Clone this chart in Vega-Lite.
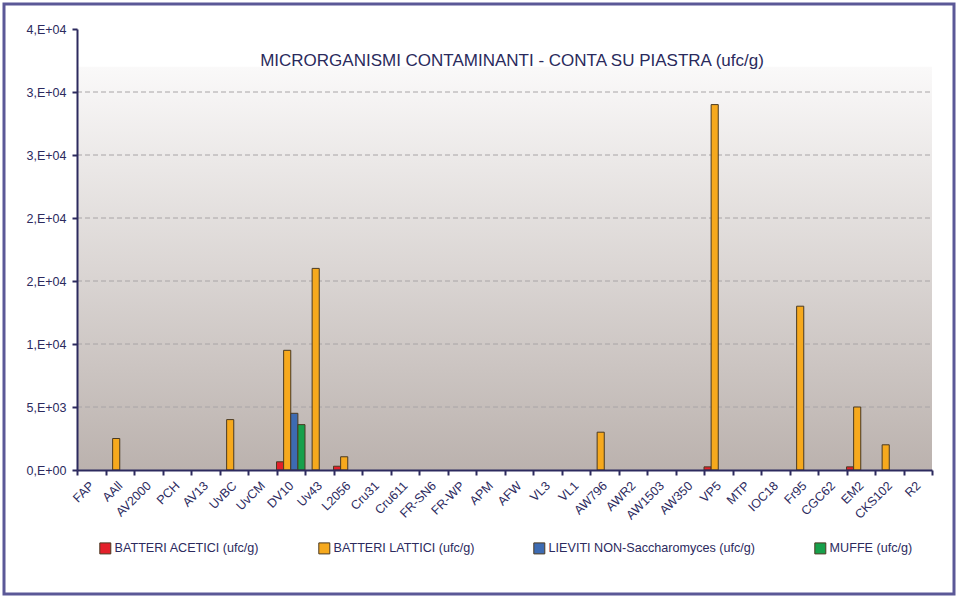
{
  "$schema": "https://vega.github.io/schema/vega-lite/v6.json",
  "width": 950,
  "height": 590,
  "autosize": {"type": "none"},
  "padding": {"left": 4, "top": 4, "right": 6, "bottom": 6},
  "background": "white",
  "config": {
    "view": {"stroke": "#5b5897", "strokeWidth": 3, "fill": "white"},
    "font": "Liberation Sans"
  },
  "title": {
    "text": "MICRORGANISMI CONTAMINANTI - CONTA SU PIASTRA (ufc/g)",
    "font": "Liberation Sans",
    "fontSize": 17,
    "fontWeight": "normal",
    "color": "#2a2a5c",
    "anchor": "middle",
    "frame": "group",
    "baseline": "alphabetic",
    "offset": -79,
    "dx": 33
  },
  "data": {
    "values": [
      {"sample": "AAll", "group": "BATTERI LATTICI (ufc/g)", "value": 2500},
      {"sample": "UvBC", "group": "BATTERI LATTICI (ufc/g)", "value": 4000},
      {"sample": "DV10", "group": "BATTERI ACETICI (ufc/g)", "value": 650},
      {"sample": "DV10", "group": "BATTERI LATTICI (ufc/g)", "value": 9500},
      {"sample": "DV10", "group": "LIEVITI NON-Saccharomyces (ufc/g)", "value": 4500},
      {"sample": "DV10", "group": "MUFFE (ufc/g)", "value": 3600},
      {"sample": "Uv43", "group": "BATTERI LATTICI (ufc/g)", "value": 16000},
      {"sample": "L2056", "group": "BATTERI ACETICI (ufc/g)", "value": 300},
      {"sample": "L2056", "group": "BATTERI LATTICI (ufc/g)", "value": 1050},
      {"sample": "AW796", "group": "BATTERI LATTICI (ufc/g)", "value": 3000},
      {"sample": "VP5", "group": "BATTERI ACETICI (ufc/g)", "value": 250},
      {"sample": "VP5", "group": "BATTERI LATTICI (ufc/g)", "value": 29000},
      {"sample": "Fr95", "group": "BATTERI LATTICI (ufc/g)", "value": 13000},
      {"sample": "EM2", "group": "BATTERI ACETICI (ufc/g)", "value": 250},
      {"sample": "EM2", "group": "BATTERI LATTICI (ufc/g)", "value": 5000},
      {"sample": "CKS102", "group": "BATTERI LATTICI (ufc/g)", "value": 2000}
    ]
  },
  "layer": [
    {
      "transform": [{"aggregate": [{"op": "count", "as": "n"}]}],
      "layer": [
        {
          "mark": {
            "type": "rect",
            "fill": {
              "gradient": "linear", "x1": 0, "y1": 0, "x2": 0, "y2": 1,
              "stops": [
                {"offset": 0, "color": "#faf9f9"},
                {"offset": 0.5, "color": "#dbd6d4"},
                {"offset": 1, "color": "#bbb2ae"}
              ]
            }
          },
          "encoding": {
            "x": {"datum": "FAP", "type": "nominal", "bandPosition": 0},
            "x2": {"datum": "R2", "bandPosition": 1},
            "y": {"datum": 32000, "type": "quantitative"},
            "y2": {"datum": 0}
          }
        },
        {"mark": {"type": "rule", "stroke": "#a8a4a6", "strokeDash": [5, 3], "strokeWidth": 1},
         "encoding": {"x": {"datum": "FAP", "type": "nominal", "bandPosition": 0}, "x2": {"datum": "R2", "bandPosition": 1}, "y": {"datum": 5000, "type": "quantitative"}}},
        {"mark": {"type": "rule", "stroke": "#a8a4a6", "strokeDash": [5, 3], "strokeWidth": 1},
         "encoding": {"x": {"datum": "FAP", "type": "nominal", "bandPosition": 0}, "x2": {"datum": "R2", "bandPosition": 1}, "y": {"datum": 10000, "type": "quantitative"}}},
        {"mark": {"type": "rule", "stroke": "#a8a4a6", "strokeDash": [5, 3], "strokeWidth": 1},
         "encoding": {"x": {"datum": "FAP", "type": "nominal", "bandPosition": 0}, "x2": {"datum": "R2", "bandPosition": 1}, "y": {"datum": 15000, "type": "quantitative"}}},
        {"mark": {"type": "rule", "stroke": "#a8a4a6", "strokeDash": [5, 3], "strokeWidth": 1},
         "encoding": {"x": {"datum": "FAP", "type": "nominal", "bandPosition": 0}, "x2": {"datum": "R2", "bandPosition": 1}, "y": {"datum": 20000, "type": "quantitative"}}},
        {"mark": {"type": "rule", "stroke": "#a8a4a6", "strokeDash": [5, 3], "strokeWidth": 1},
         "encoding": {"x": {"datum": "FAP", "type": "nominal", "bandPosition": 0}, "x2": {"datum": "R2", "bandPosition": 1}, "y": {"datum": 25000, "type": "quantitative"}}},
        {"mark": {"type": "rule", "stroke": "#a8a4a6", "strokeDash": [5, 3], "strokeWidth": 1},
         "encoding": {"x": {"datum": "FAP", "type": "nominal", "bandPosition": 0}, "x2": {"datum": "R2", "bandPosition": 1}, "y": {"datum": 30000, "type": "quantitative"}}}
      ]
    },
    {
      "mark": {"type": "bar", "stroke": "#4a3a22", "strokeWidth": 1},
      "encoding": {
        "x": {
          "field": "sample",
          "type": "nominal",
          "sort": null,
          "scale": {
            "domain": ["FAP", "AAll", "AV2000", "PCH", "AV13", "UvBC", "UvCM", "DV10", "Uv43", "L2056", "Cru31", "Cru611", "FR-SN6", "FR-WP", "APM", "AFW", "VL3", "VL1", "AW796", "AWR2", "AW1503", "AW350", "VP5", "MTP", "IOC18", "Fr95", "CGC62", "EM2", "CKS102", "R2"],
            "range": [73, 928],
            "paddingInner": 0,
            "paddingOuter": 0
          },
          "axis": {
            "title": null,
            "zindex": 1,
            "offset": -124,
            "labelAngle": -45,
            "labelAlign": "right",
            "labelBaseline": "top",
            "labelOffset": -4,
            "tickBand": "extent",
            "domainColor": "#2c2a5e",
            "domainWidth": 2,
            "tickColor": "#2c2a5e",
            "tickSize": 5,
            "tickWidth": 2,
            "labelFont": "Liberation Sans",
            "labelFontSize": 12.5,
            "labelColor": "#2c2a5e",
            "labelPadding": 4,
            "grid": false
          }
        },
        "xOffset": {
          "field": "group",
          "scale": {
            "domain": ["BATTERI ACETICI (ufc/g)", "BATTERI LATTICI (ufc/g)", "LIEVITI NON-Saccharomyces (ufc/g)", "MUFFE (ufc/g)"],
            "paddingInner": 0,
            "paddingOuter": 0
          }
        },
        "y": {
          "field": "value",
          "type": "quantitative",
          "scale": {"domain": [0, 35000], "range": [466, 25], "nice": false},
          "axis": {
            "title": null,
            "zindex": 1,
            "values": [0, 5000, 10000, 15000, 20000, 25000, 30000, 35000],
            "labelExpr": "replace(format(datum.value, '.0e'), 'e+', ',E+0')",
            "offset": -73,
            "domainColor": "#2c2a5e",
            "domainWidth": 2,
            "tickColor": "#2c2a5e",
            "tickSize": 5,
            "tickWidth": 2,
            "labelFont": "Liberation Sans",
            "labelFontSize": 12.5,
            "labelColor": "#2c2a5e",
            "labelPadding": 6,
            "grid": false
          }
        },
        "color": {
          "field": "group",
          "type": "nominal",
          "scale": {
            "domain": ["BATTERI ACETICI (ufc/g)", "BATTERI LATTICI (ufc/g)", "LIEVITI NON-Saccharomyces (ufc/g)", "MUFFE (ufc/g)"],
            "range": ["#e3202a", "#f6a91d", "#3d6bb2", "#17a04b"]
          },
          "legend": {
            "orient": "none",
            "legendX": 95,
            "legendY": 538,
            "direction": "horizontal",
            "columns": 4,
            "title": null,
            "symbolType": "square",
            "symbolSize": 121,
            "symbolStrokeColor": "#4a3a22",
            "symbolStrokeWidth": 1,
            "labelFont": "Liberation Sans",
            "labelFontSize": 12.6,
            "labelColor": "#2c2a5e",
            "labelLimit": 400,
            "columnPadding": 56,
            "labelOffset": 3,
            "padding": 0
          }
        }
      }
    }
  ]
}
